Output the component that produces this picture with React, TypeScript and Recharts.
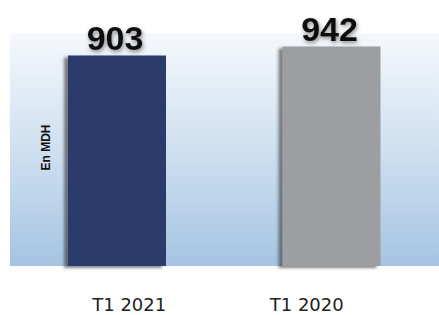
import React from "react";
import { BarChart, Bar, XAxis, YAxis, ReferenceArea, LabelList, Cell, Label } from "recharts";

const categories = ["T1 2021", "T1 2020"];
const values = [903, 942];
const barColors = ["#2b3a6c", "#9c9ea2"];
const yDomain = [0, 1000];

const data = categories.map((c, i) => ({ name: c, value: values[i] }));

const tickShift = [12, -25];

const Tick = (props: any) => {
  const { x, y, payload, index } = props;
  return (
    <text
      x={x + (tickShift[index] || 0)}
      y={y + 37}
      textAnchor="middle"
      style={{ fontFamily: "DejaVu Sans", fontSize: 18 }}
      fill="#222"
    >
      {payload.value}
    </text>
  );
};

const ValueLabel = (props: any) => {
  const { x, y, width, value } = props;
  return (
    <text
      x={x + width / 2 - 2}
      y={y - 6}
      textAnchor="middle"
      style={{ fontFamily: "Liberation Sans", fontWeight: "bold", fontSize: 34 }}
      fill="#111"
      filter="url(#txtShadow)"
    >
      {value}
    </text>
  );
};

export default function App() {
  return (
    <div style={{ position: "absolute", left: 0, top: 0 }}>
      <BarChart
        width={439}
        height={315}
        data={data}
        margin={{ top: 33, right: 0, bottom: 0, left: 10 }}
        barSize={98}
      >
        <defs>
          <linearGradient id="bg" x1="0" y1="0" x2="0" y2="1">
            <stop offset="0%" stopColor="#f5f8fc" />
            <stop offset="50%" stopColor="#cfe0f0" />
            <stop offset="100%" stopColor="#a5c4e2" />
          </linearGradient>
          <filter id="barShadow" x="-20%" y="-10%" width="140%" height="120%">
            <feDropShadow dx={-4} dy={2} stdDeviation={1.5} floodColor="#333" floodOpacity={0.6} />
          </filter>
          <filter id="txtShadow" x="-20%" y="-30%" width="140%" height="160%">
            <feDropShadow dx={1} dy={2} stdDeviation={2} floodColor="#555" floodOpacity={0.7} />
          </filter>
        </defs>
        <YAxis domain={yDomain} hide />
        <XAxis
          dataKey="name"
          axisLine={false}
          tickLine={false}
          height={49}
          tick={<Tick />}
          interval={0}
        />
        <ReferenceArea y1={0} y2={1000} fill="url(#bg)" fillOpacity={1} stroke="none" ifOverflow="extendDomain">
          <Label
            content={(p: any) => {
              const vb = p.viewBox;
              const cx = vb.x + 36;
              const cy = vb.y + vb.height / 2 - 2;
              return (
                <text
                  x={cx}
                  y={cy}
                  transform={`rotate(-90 ${cx} ${cy})`}
                  textAnchor="middle"
                  dominantBaseline="central"
                  style={{ fontFamily: "Liberation Sans", fontWeight: "bold", fontSize: 12 }}
                  fill="#111"
                >
                  En MDH
                </text>
              );
            }}
          />
        </ReferenceArea>
        <Bar dataKey="value" isAnimationActive={false} filter="url(#barShadow)">
          {data.map((d, i) => (
            <Cell key={d.name} fill={barColors[i]} />
          ))}
          <LabelList dataKey="value" content={<ValueLabel />} />
        </Bar>
      </BarChart>
    </div>
  );
}
